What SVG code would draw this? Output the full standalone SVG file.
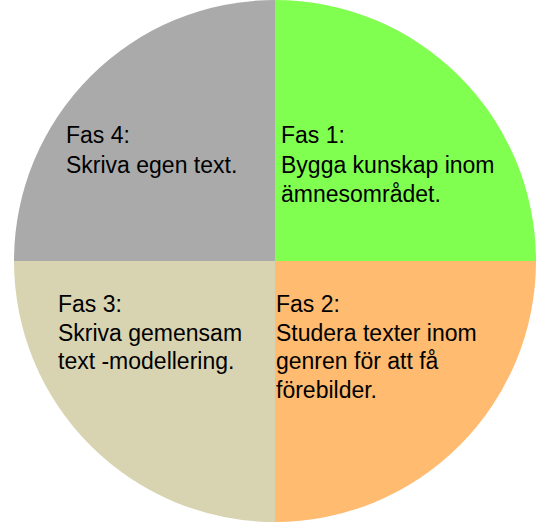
<svg xmlns="http://www.w3.org/2000/svg" width="552" height="524" viewBox="0 0 552 524">
<style>
.t{font-family:"Liberation Sans",Arial,sans-serif;font-size:23px;fill:#000}
</style>
<rect width="552" height="524" fill="#fff"/>
<g id="fas1">
<path d="M275,261 L275,0 A261,261 0 0 1 536,261 Z" fill="#80FF50"/>
<text class="t"><tspan x="281" y="143">Fas 1:</tspan><tspan x="281" y="172.5">Bygga kunskap inom</tspan><tspan x="281" y="202">ämnesområdet.</tspan></text>
</g>
<g id="fas2">
<path d="M275,261 L536,261 A261,261 0 0 1 275,522 Z" fill="#FFBB70"/>
<text class="t"><tspan x="276" y="312">Fas 2:</tspan><tspan x="276" y="340.5">Studera texter inom</tspan><tspan x="276" y="369">genren för att få</tspan><tspan x="276" y="397.5">förebilder.</tspan></text>
</g>
<g id="fas3">
<path d="M275,261 L275,522 A261,261 0 0 1 14,261 Z" fill="#D8D3B0"/>
<text class="t"><tspan x="58" y="312">Fas 3:</tspan><tspan x="58" y="340.5">Skriva gemensam</tspan><tspan x="58" y="369">text -modellering.</tspan></text>
</g>
<g id="fas4">
<path d="M275,261 L14,261 A261,261 0 0 1 275,0 Z" fill="#AAAAAA"/>
<text class="t"><tspan x="66" y="143">Fas 4:</tspan><tspan x="66" y="172.5">Skriva egen text.</tspan></text>
</g>
<g id="connectors"/>
</svg>
